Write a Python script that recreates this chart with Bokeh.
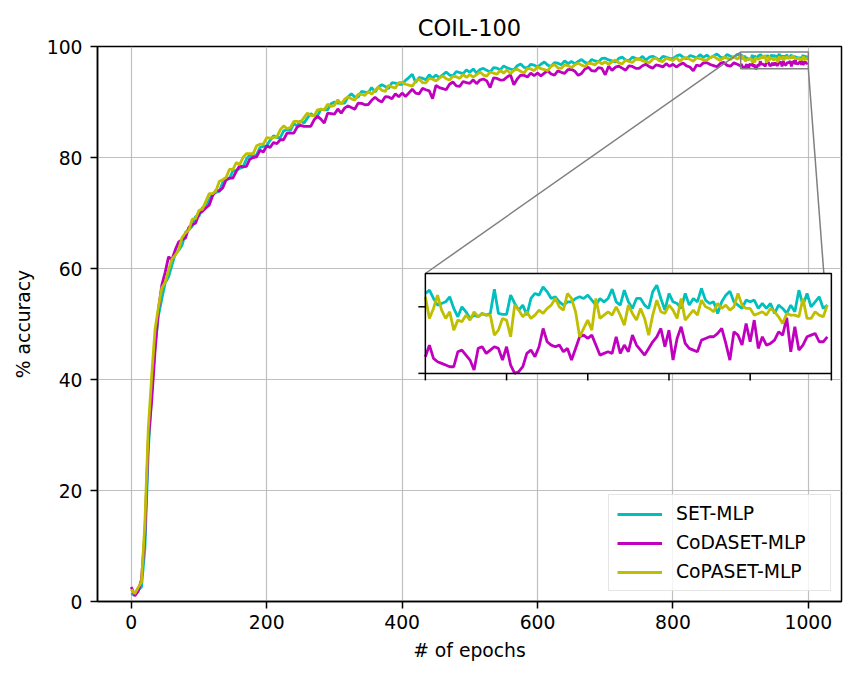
from bokeh.plotting import figure
from bokeh.models import Range1d, FixedTicker, Legend
from bokeh.embed import file_html
from bokeh.resources import INLINE
import math

# ---------------- data ----------------
series_names = ["SET-MLP", "CoDASET-MLP", "CoPASET-MLP"]
series_colors = ["#00bfbf", "#bf00bf", "#bfbf00"]

epochs_main = list(range(0, 900, 5))      # sampled epochs 0..895
epochs_zoom = list(range(900, 1000))      # every epoch 900..999

set_main = [
    1.2, 1.6, 2.0, 2.6, 9.5, 27.0, 37.5, 46.0, 51.5, 54.5,
    57.4, 58.5, 60.6, 62.7, 63.3, 64.2, 66.5, 67.0, 67.6, 69.4,
    69.4, 71.0, 70.9, 72.4, 73.4, 73.7, 73.9, 75.5, 76.0, 76.2,
    77.6, 77.7, 78.0, 78.3, 79.7, 80.5, 80.2, 80.5, 81.8, 82.0,
    82.1, 83.1, 83.9, 83.6, 83.6, 84.8, 85.0, 84.9, 86.1, 85.7,
    86.6, 86.2, 87.1, 87.9, 87.5, 87.5, 88.7, 88.6, 88.6, 89.7,
    90.0, 89.8, 89.8, 89.8, 90.9, 91.5, 90.9, 90.9, 91.9, 91.8,
    91.7, 92.6, 91.8, 92.7, 93.1, 92.8, 92.4, 93.5, 93.4, 93.2,
    93.2, 93.9, 94.4, 95.0, 93.5, 94.4, 94.3, 94.0, 94.9, 94.3,
    94.85, 94.4, 94.9, 95.4, 94.85, 94.7, 95.5, 95.3, 95.1, 95.8,
    95.35, 95.95, 95.2, 95.85, 96.05, 95.7, 95.4, 96.2, 96.1, 95.8,
    96.5, 96.15, 95.95, 95.75, 96.55, 96.85, 96.25, 96.15, 96.8, 96.65,
    96.3, 96.8, 97.2, 96.65, 96.4, 97.1, 97.0, 96.7, 97.4, 96.9,
    97.3, 96.85, 97.3, 97.65, 97.15, 96.95, 97.65, 97.4, 97.25, 97.85,
    97.9, 97.58, 97.4, 97.23, 97.86, 98.09, 97.57, 97.45, 98.08, 97.85,
    97.7, 98.22, 97.55, 98.07, 98.24, 97.91, 97.58, 98.2, 98.07, 97.85,
    97.8, 98.26, 98.52, 98.08, 97.79, 98.35, 98.21, 97.97, 98.53, 98.05,
    98.45, 97.95, 98.3, 98.65, 98.1, 97.9, 98.55, 98.25, 98.05, 98.6,
]

codaset_main = [
    2.6, 1.0, 1.8, 4.0, 12.0, 29.0, 36.0, 45.0, 52.5, 57.0,
    59.3, 62.1, 61.6, 63.4, 64.8, 65.2, 65.5, 67.4, 67.9, 68.2,
    69.9, 70.3, 70.9, 71.4, 73.1, 74.1, 74.0, 74.5, 76.0, 76.3,
    76.3, 77.5, 78.5, 78.3, 78.4, 79.7, 80.0, 80.1, 81.3, 81.0,
    82.1, 81.8, 82.7, 82.5, 83.2, 83.2, 84.4, 84.4, 84.4, 85.5,
    85.8, 85.6, 85.6, 85.6, 86.8, 87.4, 86.9, 86.2, 88.0, 87.9,
    87.8, 88.75, 88.0, 88.9, 89.3, 89.0, 88.7, 89.8, 89.75, 89.5,
    89.55, 90.3, 90.85, 90.3, 90.0, 90.95, 90.9, 90.6, 91.5, 90.95,
    91.6, 91.0, 91.65, 92.3, 91.6, 91.45, 92.45, 92.2, 92.0, 90.6,
    93.0, 92.6, 92.4, 92.2, 93.2, 93.6, 92.9, 92.8, 93.7, 93.5,
    93.35, 94.0, 93.3, 93.95, 94.15, 93.8, 92.6, 94.35, 94.25, 93.95,
    94.0, 94.5, 94.9, 93.1, 94.15, 94.85, 94.8, 94.5, 95.2, 94.75,
    95.2, 94.7, 95.2, 95.65, 95.05, 94.85, 95.6, 95.35, 95.15, 95.85,
    95.9, 95.55, 94.8, 95.15, 95.95, 96.25, 95.65, 95.55, 96.2, 96.05,
    94.9, 96.45, 95.7, 96.27, 96.45, 96.1, 95.72, 96.5, 96.4, 96.07,
    96.05, 96.53, 96.8, 96.37, 96.1, 96.68, 96.55, 96.32, 96.9, 96.42,
    96.8, 96.3, 96.72, 97.03, 96.5, 96.3, 95.6, 96.67, 96.48, 97.05,
    97.1, 96.75, 96.55, 96.35, 96.95, 97.15, 96.6, 96.45, 97.05, 96.8,
]

copaset_main = [
    2.2, 1.4, 2.5, 3.5, 14.0, 31.0, 40.5, 49.0, 53.0, 56.5,
    57.5, 59.7, 61.7, 62.4, 63.4, 65.6, 66.4, 66.9, 68.9, 69.0,
    70.5, 70.7, 72.1, 73.5, 73.5, 74.0, 75.7, 76.0, 76.4, 77.9,
    77.8, 79.1, 78.7, 80.0, 80.7, 80.7, 80.7, 82.1, 82.4, 82.4,
    83.6, 83.5, 83.6, 83.7, 85.0, 85.7, 85.2, 85.4, 86.5, 86.5,
    86.3, 87.2, 88.0, 87.6, 87.5, 88.6, 88.7, 88.6, 89.6, 89.2,
    89.4, 90.4, 89.6, 90.5, 90.9, 90.6, 90.3, 91.4, 91.4, 91.2,
    91.9, 91.4, 92.1, 92.7, 92.1, 91.9, 93.0, 92.7, 92.5, 93.5,
    93.55, 93.2, 93.05, 92.85, 93.75, 94.15, 93.5, 93.45, 94.25, 94.1,
    93.8, 94.3, 94.7, 94.2, 93.95, 94.65, 94.55, 94.25, 94.95, 94.45,
    94.95, 94.5, 94.95, 95.4, 94.85, 94.65, 95.4, 95.2, 95.0, 95.7,
    95.2, 95.8, 95.1, 95.7, 95.9, 95.55, 95.2, 96.05, 95.95, 95.65,
    96.35, 96.0, 95.85, 95.65, 96.45, 96.75, 96.15, 96.05, 96.7, 96.55,
    96.2, 96.7, 97.0, 96.65, 96.4, 97.0, 96.9, 96.7, 97.3, 96.85,
    97.25, 96.8, 97.22, 97.55, 97.05, 96.87, 97.55, 97.3, 97.12, 97.7,
    97.75, 97.42, 97.25, 97.08, 97.7, 97.92, 97.4, 97.28, 97.9, 97.67,
    97.5, 98.02, 97.33, 97.85, 98.02, 97.68, 97.35, 97.97, 97.83, 97.6,
    97.55, 98.0, 98.25, 97.8, 97.5, 98.05, 97.9, 97.65, 98.2, 97.7,
]

set_zoom = [
    98.40, 98.50, 98.25, 98.05, 98.10, 98.15, 98.30, 97.95, 97.70, 98.00,
    97.85, 97.65, 97.75, 97.70, 97.80, 97.75, 97.80, 98.53, 97.80, 97.77,
    97.77, 98.35, 98.10, 97.90, 98.05, 97.75, 98.25, 98.40, 98.35, 98.60,
    98.45, 98.25, 98.30, 98.15, 98.05, 98.15, 98.15, 98.25, 98.30, 98.25,
    98.35, 98.20, 98.05, 98.25, 98.15, 98.25, 98.53, 98.15, 98.05, 98.50,
    98.15, 97.95, 98.25, 98.25, 98.05, 97.95, 98.45, 98.65, 98.25, 97.90,
    98.40, 98.15, 98.10, 97.95, 98.40, 98.05, 98.25, 98.15, 98.55, 98.20,
    98.10, 98.15, 97.80, 98.15, 98.35, 98.47, 98.15, 98.05, 97.95, 98.20,
    98.15, 98.20, 97.95, 98.10, 97.95, 98.10, 97.80, 98.05, 97.95, 97.80,
    98.05, 97.85, 98.50, 98.05, 98.40, 98.00, 98.15, 98.30, 97.95, 98.05,
]

codaset_zoom = [
    96.50, 96.85, 96.45, 96.35, 96.30, 96.25, 96.20, 96.20, 96.65, 96.70,
    96.55, 96.40, 96.10, 96.75, 96.80, 96.60, 96.70, 96.80, 96.75, 96.40,
    96.80, 96.25, 96.00, 96.05, 96.20, 96.60, 96.70, 96.50, 96.80, 97.35,
    96.95, 96.85, 96.80, 96.85, 96.65, 96.75, 96.40, 96.75, 97.10, 97.15,
    97.05, 97.15, 96.85, 96.55, 96.60, 96.65, 96.60, 97.10, 96.60, 96.85,
    96.65, 97.15, 96.85, 96.70, 96.55, 96.75, 96.95, 97.10, 97.35, 96.80,
    97.30, 96.40, 97.05, 97.40, 96.90, 96.75, 96.70, 96.65, 97.00, 97.05,
    97.10, 97.10, 97.20, 97.35, 96.90, 96.40, 97.25, 97.15, 96.85, 97.50,
    96.95, 97.60, 96.75, 97.10, 96.85, 96.90, 97.00, 97.25, 97.15, 97.67,
    96.65, 97.40, 96.70, 96.85, 97.10, 97.15, 97.20, 96.95, 96.95, 97.10,
]

copaset_zoom = [
    98.30, 97.65, 97.95, 98.35, 97.90, 97.65, 97.85, 97.30, 97.60, 97.55,
    97.75, 97.60, 97.85, 97.70, 97.80, 97.75, 97.75, 97.15, 97.30, 97.65,
    97.60, 97.10, 98.05, 97.90, 97.70, 97.85, 97.65, 97.75, 97.90, 97.80,
    97.95, 98.05, 98.25, 98.00, 97.90, 98.40, 98.25, 97.85, 97.10, 97.35,
    97.60, 97.30, 98.25, 97.65, 97.75, 97.85, 97.75, 98.00, 97.75, 97.45,
    98.05, 97.80, 97.60, 97.95, 97.65, 97.15, 97.75, 98.20, 97.85, 97.80,
    98.05, 97.90, 97.65, 98.25, 97.60, 97.75, 97.90, 97.75, 98.20, 98.00,
    97.95, 97.85, 98.10, 97.95, 98.05, 97.90, 98.00, 98.40, 98.05, 97.95,
    97.95, 97.75, 97.80, 97.85, 97.75, 97.95, 97.85, 97.70, 97.50, 97.80,
    97.75, 97.75, 97.70, 98.25, 97.65, 97.65, 97.85, 97.75, 97.70, 98.05,
]

x_ticks = [0, 200, 400, 600, 800, 1000]
y_ticks = [0, 20, 40, 60, 80, 100]
zoom_x_range = (900, 1000)
zoom_y_range = (96, 99)
zoom_x_ticks = [900, 920, 940, 960, 980, 1000]
zoom_y_ticks = [96, 98]

# inset placement (in main-axes data units)
INSET_X = (434.3, 1034.0)
INSET_Y = (41.1, 59.1)

FONT = "DejaVu Sans"
LW = 2.8

# ---------------- figure ----------------
p = figure(width=865, height=680, output_backend="svg", toolbar_location=None,
           x_range=Range1d(-49.95, 1048.95), y_range=Range1d(0, 100),
           min_border_left=97, min_border_right=24, min_border_top=46,
           min_border_bottom=79)
p.background_fill_color = "white"
p.border_fill_color = "white"
p.outline_line_color = "black"
p.outline_line_width = 1.5

p.title.text = "COIL-100"
p.title.align = "center"
p.title.text_font = FONT
p.title.text_font_size = "22.5px"
p.title.text_font_style = "normal"
p.title.text_color = "black"
p.title.standoff = 12

for ax, ticks, lab in ((p.xaxis, x_ticks, "# of epochs"), (p.yaxis, y_ticks, "% accuracy")):
    ax.ticker = FixedTicker(ticks=ticks)
    ax.axis_label = lab
    ax.axis_label_text_font = FONT
    ax.axis_label_text_font_size = "18.75px"
    ax.axis_label_text_font_style = "normal"
    ax.axis_label_text_color = "black"
    ax.major_label_text_font = FONT
    ax.major_label_text_font_size = "18.75px"
    ax.major_label_text_color = "black"
    ax.axis_line_color = "black"
    ax.axis_line_width = 1.5
    ax.major_tick_line_color = "black"
    ax.major_tick_line_width = 1.5
    ax.major_tick_out = 7
    ax.major_tick_in = 0
    ax.minor_tick_line_color = None
p.xaxis.major_label_standoff = 6
p.xaxis.axis_label_standoff = 8
p.yaxis.major_label_standoff = 8
p.yaxis.axis_label_standoff = 10

p.grid.grid_line_color = "#b0b0b0"
p.grid.grid_line_width = 1.2
p.grid.grid_line_alpha = 0.8

main_series = [set_main + set_zoom, codaset_main + codaset_zoom, copaset_main + copaset_zoom]
zoom_series = [set_zoom, codaset_zoom, copaset_zoom]
epochs_all = epochs_main + epochs_zoom

items = []
for name, color, ys in zip(series_names, series_colors, main_series):
    r = p.line(epochs_all, ys, line_color=color, line_width=LW)
    items.append((name, [r]))

# indicator rectangle + connectors
p.quad(left=[zoom_x_range[0]], right=[zoom_x_range[1]], bottom=[zoom_y_range[0]], top=[zoom_y_range[1]],
       fill_color=None, line_color="#808080", line_width=1.5)
p.segment(x0=[zoom_x_range[0], zoom_x_range[1]], y0=[zoom_y_range[1], zoom_y_range[0]],
          x1=[INSET_X[0], INSET_X[1]], y1=[INSET_Y[1], INSET_Y[0]],
          line_color="#808080", line_width=1.5)

# inset
sub = p.subplot(x_source=Range1d(*zoom_x_range), y_source=Range1d(*zoom_y_range),
                x_target=Range1d(*INSET_X), y_target=Range1d(*INSET_Y))
sub.quad(left=[zoom_x_range[0]], right=[zoom_x_range[1]], bottom=[zoom_y_range[0]], top=[zoom_y_range[1]],
         fill_color="white", line_color=None)
for color, ys in zip(series_colors, zoom_series):
    sub.line(epochs_zoom, ys, line_color=color, line_width=LW)
sub.quad(left=[zoom_x_range[0]], right=[zoom_x_range[1]], bottom=[zoom_y_range[0]], top=[zoom_y_range[1]],
         fill_color=None, line_color="black", line_width=1.5)
sub.ray(x=zoom_x_ticks, y=[zoom_y_range[0]] * len(zoom_x_ticks), length=7, length_units="screen",
        angle=-math.pi / 2, line_color="black", line_width=1.5)
sub.ray(x=[zoom_x_range[0]] * len(zoom_y_ticks), y=zoom_y_ticks, length=7, length_units="screen",
        angle=math.pi, line_color="black", line_width=1.5)

legend = Legend(items=items, location="bottom_right")
legend.label_text_font = FONT
legend.label_text_font_size = "18.75px"
legend.label_text_color = "black"
legend.glyph_width = 45
legend.label_standoff = 14
legend.label_width = 146
legend.spacing = 8
legend.padding = 8
legend.margin = 10
legend.border_line_color = "#cccccc"
legend.border_line_width = 1.4
legend.background_fill_alpha = 0.8
p.add_layout(legend)

open("out.html", "w").write(file_html(p, INLINE))
